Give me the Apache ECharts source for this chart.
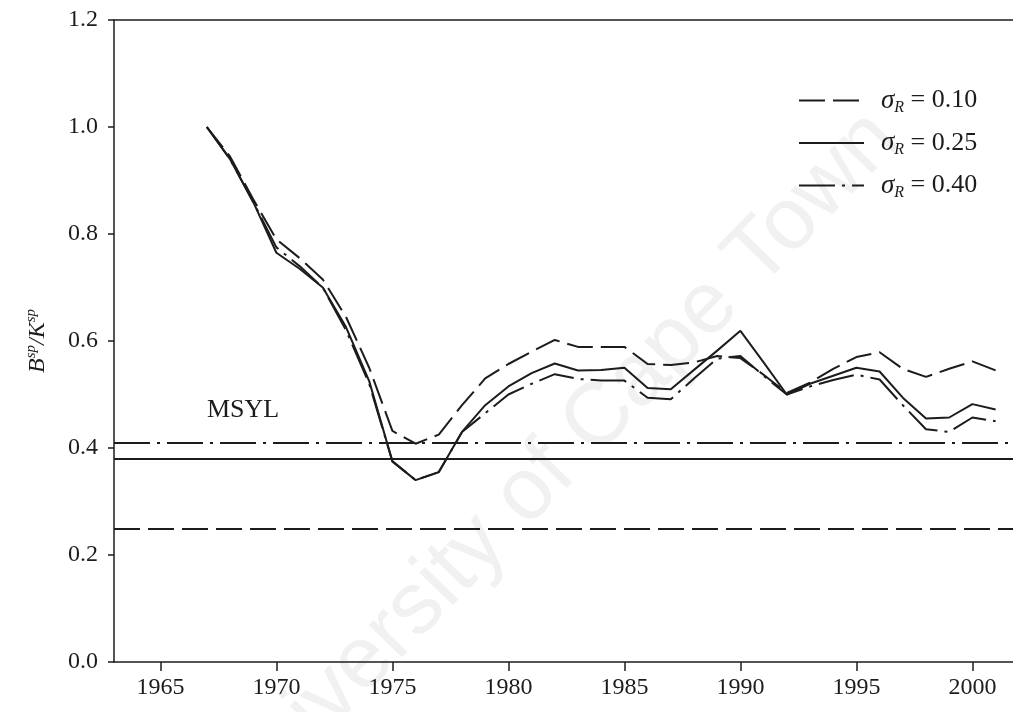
<!DOCTYPE html>
<html>
<head>
<meta charset="utf-8">
<script src="https://cdn.jsdelivr.net/npm/echarts@6/dist/echarts.min.js"></script>
<style>
html,body{margin:0;padding:0;background:#fff;}
#chart{width:1013px;height:712px;}
</style>
</head>
<body>
<div id="chart"></div>
<script>
// ---- data ----
const years = [1967,1968,1969,1970,1971,1972,1973,1974,1975,1976,1977,1978,1979,1980,1981,1982,1983,1984,1985,1986,1987,1988,1989,1990,1991,1992,1993,1994,1995,1996,1997,1998,1999,2000,2001];
const sigma010 = [1.0,0.945,0.865,0.79,0.755,0.715,0.645,0.55,0.432,0.408,0.425,0.48,0.53,0.557,0.58,0.602,0.589,0.589,0.589,0.557,0.555,0.56,0.572,0.568,0.537,0.503,0.522,0.548,0.57,0.579,0.548,0.533,0.548,0.562,0.545];
const sigma025 = [1.0,0.94,0.86,0.765,0.735,0.70,0.626,0.525,0.375,0.34,0.355,0.43,0.48,0.515,0.54,0.558,0.545,0.546,0.55,0.512,0.51,0.546,0.582,0.619,0.56,0.50,0.52,0.535,0.55,0.543,0.494,0.455,0.457,0.482,0.472];
const sigma040 = [1.0,0.94,0.86,0.775,0.74,0.70,0.62,0.52,0.375,0.34,0.355,0.43,0.465,0.50,0.52,0.538,0.529,0.526,0.526,0.494,0.491,0.53,0.567,0.572,0.535,0.50,0.515,0.527,0.537,0.528,0.48,0.435,0.43,0.457,0.45];
const sigmaLabels = ['0.10','0.25','0.40'];
const msylLevels = [0.253, 0.378, 0.405];   // MSYL for sigma 0.10, 0.25, 0.40
const xTickYears = [1965,1970,1975,1980,1985,1990,1995,2000];

const INK = '#1c1c1c';
const SERIF = 'Liberation Serif, Times New Roman, serif';
const dashTypes = [[26,8], 'solid', [36,7,3,7]];
const seriesValues = [sigma010, sigma025, sigma040];

function pairs(vals){ return years.map((y,i)=>[y, vals[i]]); }

const series = seriesValues.map((vals, k) => ({
  name: 'σR = ' + sigmaLabels[k],
  type: 'line',
  data: pairs(vals),
  symbol: 'none',
  z: 3,
  lineStyle: {color: INK, width: 2, type: dashTypes[k]},
  itemStyle: {color: INK},
  markLine: {
    silent: true,
    symbol: ['none','none'],
    label: {show: false},
    animation: false,
    lineStyle: {color: INK, width: 2, type: dashTypes[k]},
    data: [{yAxis: msylLevels[k]}]
  }
}));

const chart = echarts.init(document.getElementById('chart'), null, {renderer: 'canvas'});
chart.setOption({
  animation: false,
  backgroundColor: '#fff',
  grid: {left: 114, right: 0, top: 20, bottom: 50, containLabel: false},
  xAxis: [{
    type: 'value', min: 1963, max: 2001.75,
    axisLine: {show: true, lineStyle: {color: INK, width: 1.5}},
    axisTick: {show: true, length: 9, customValues: xTickYears, lineStyle: {color: INK, width: 1.5}},
    axisLabel: {customValues: xTickYears, color: INK, fontFamily: SERIF, fontSize: 24, margin: 14, formatter: v => String(v)},
    splitLine: {show: false}
  },{
    type: 'value', position: 'top', min: 1963, max: 2001.75,
    axisLine: {show: true, onZero: false, lineStyle: {color: INK, width: 1.5}},
    axisTick: {show: false}, axisLabel: {show: false}, splitLine: {show: false}
  }],
  yAxis: {
    type: 'value', min: 0, max: 1.2, interval: 0.2,
    axisLine: {show: true, lineStyle: {color: INK, width: 1.5}},
    axisTick: {show: true, length: 6, lineStyle: {color: INK, width: 1.5}},
    axisLabel: {color: INK, fontFamily: SERIF, fontSize: 24, margin: 16, formatter: v => v.toFixed(1)},
    splitLine: {show: false},
    name: '{i|B}{s|sp}{i|/K}{s|sp}',
    nameLocation: 'middle', nameRotate: 90, nameGap: 64,
    nameTextStyle: {
      rich: {
        i: {fontFamily: SERIF, fontStyle: 'italic', fontSize: 24, color: INK, lineHeight: 26, verticalAlign: 'bottom'},
        s: {fontFamily: SERIF, fontStyle: 'italic', fontSize: 15, color: INK, lineHeight: 26, verticalAlign: 'top'}
      }
    }
  },
  legend: {
    orient: 'vertical', left: 793, top: 82,
    itemWidth: 65, itemHeight: 14, itemGap: 14,
    itemStyle: {color: 'rgba(0,0,0,0)', borderWidth: 0, opacity: 0},
    formatter: name => {
      const v = name.split('= ')[1];
      return '{s|σ}{r|R}{t| = ' + v + '}';
    },
    textStyle: {
      padding: [0,0,0,12],
      rich: {
        s: {fontFamily: SERIF, fontStyle: 'italic', fontSize: 27, color: INK, lineHeight: 30},
        r: {fontFamily: SERIF, fontStyle: 'italic', fontSize: 16, color: INK, lineHeight: 30, verticalAlign: 'bottom'},
        t: {fontFamily: SERIF, fontSize: 26, color: INK, lineHeight: 30}
      }
    },
    data: series.map(s => s.name)
  },
  graphic: [
    {
      type: 'text', silent: true, z: -10, x: 554, y: 466, rotation: 0.8,
      style: {text: 'University of Cape Town', fontFamily: 'Liberation Sans, Arial, sans-serif', fontSize: 88, fill: '#f1f1f1', align: 'center', verticalAlign: 'middle'}
    },
    {
      type: 'text', silent: true, z: 5, x: 243, y: 410,
      style: {text: 'MSYL', fontFamily: SERIF, fontSize: 26, fill: INK, align: 'center', verticalAlign: 'middle'}
    }
  ],
  series: series
});
</script>
</body>
</html>
